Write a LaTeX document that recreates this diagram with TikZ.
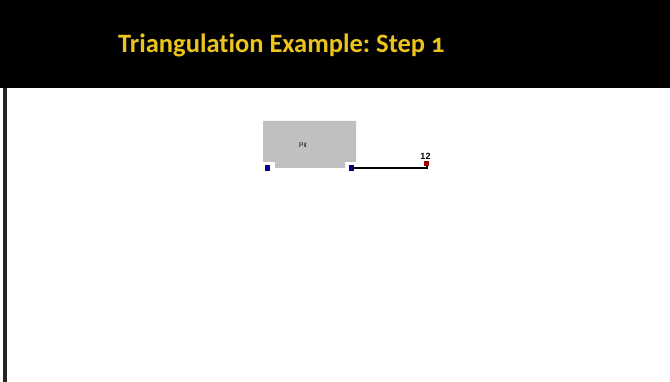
\documentclass[tikz,border=0pt]{standalone}
\usepackage{fontspec}
\setmainfont{Liberation Sans}
\newfontfamily\titlefont[Numbers=OldStyle,Ligatures=CommonOff]{Carlito}
\definecolor{titleyellow}{RGB}{236,196,28}
\definecolor{pitgrey}{RGB}{192,192,192}
\definecolor{ptblue}{RGB}{0,0,140}
\definecolor{ptred}{RGB}{150,0,0}
\frenchspacing
\begin{document}
\begin{tikzpicture}[x=1pt,y=-1pt,
  marker/.style={minimum size=5.5pt,inner sep=0pt,outer sep=0pt},
  bluept/.style={marker,fill=ptblue},
  redpt/.style={marker,fill=ptred}]
  \useasboundingbox (0,0) rectangle (670,382);
  \fill[white] (0,0) rectangle (670,382);
  % header band and left rule
  \fill[black] (0,0) rectangle (670,88);
  \fill[black!85] (3,88) rectangle (6.5,382);
  \node[anchor=base west,inner sep=0pt,text=titleyellow,font=\titlefont\bfseries\fontsize{26.5}{30}\selectfont]
    (title) at (118,53) {Triangulation Example: Step 1};
  % pit outline with notched lower corners
  \fill[pitgrey] (263,121) -- (356,121) -- (356,162) -- (345,162) -- (345,168)
    -- (275,168) -- (275,162) -- (263,162) -- cycle;
  \node[font=\fontsize{6.5}{7}\selectfont] (pit) at (303,145) {Pit};
  % survey points
  \node[bluept] (p1) at (267.3,168) {};
  \node[bluept] (p2) at (351.5,168) {};
  \node[redpt] (p12) at (426.5,163.5) {};
  \node[font=\bfseries\fontsize{9}{10}\selectfont,anchor=south,inner sep=0pt] (l12) at (425.5,160) {12};
  \draw[line width=2pt] (p2.center) -- (p2.center -| p12.south) -- (p12.south);
\end{tikzpicture}
\end{document}
